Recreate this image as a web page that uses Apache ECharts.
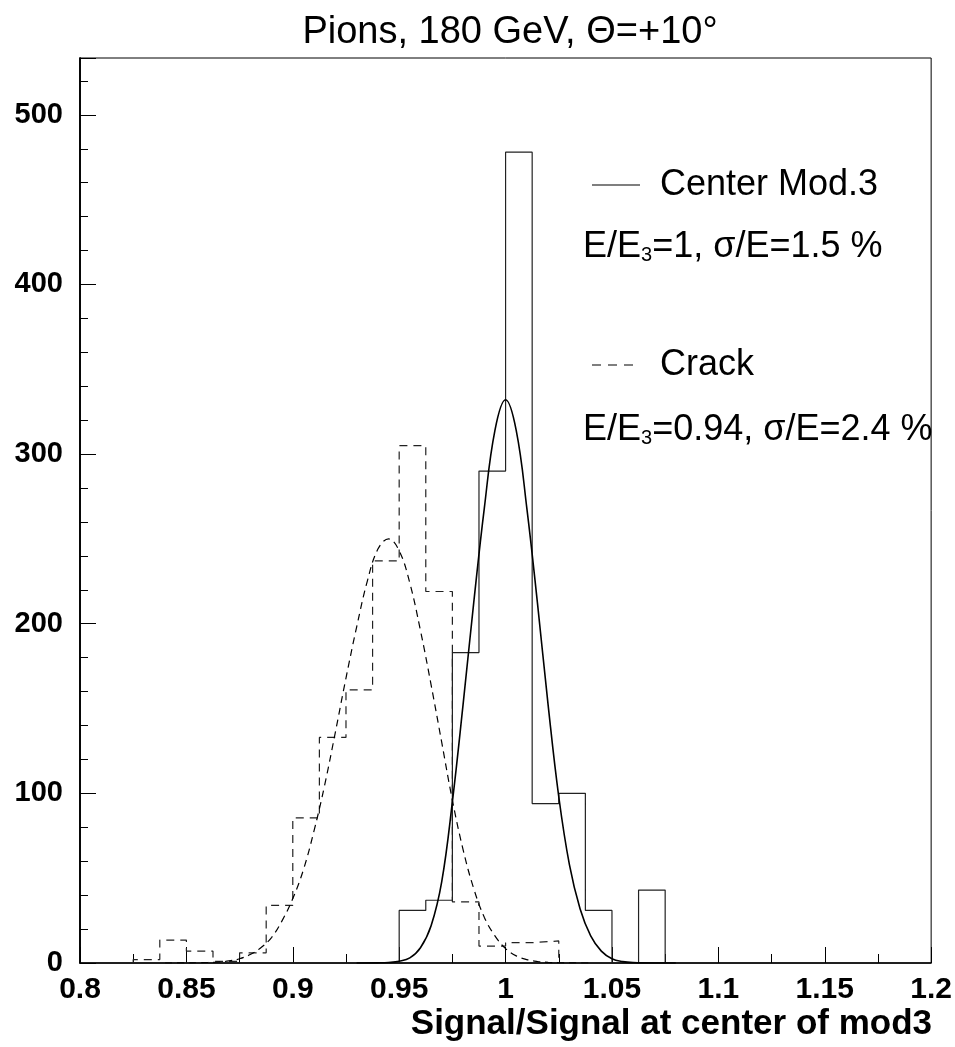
<!DOCTYPE html>
<html><head><meta charset="utf-8">
<script src="https://cdn.jsdelivr.net/npm/echarts@6/dist/echarts.min.js"></script>
<style>html,body{margin:0;padding:0;background:#fff}#c{width:955px;height:1047px}</style>
</head><body><div id="c"></div>
<script>
// ---- data ----
const binLow = [0.825,0.8375,0.85,0.8625,0.875,0.8875,0.9,0.9125,0.925,0.9375,0.95,0.9625,0.975,0.9875,1.0,1.0125,1.025,1.0375,1.05,1.0625];
const binWidth = 0.0125;
const crackCounts  = [2,13.5,7,1,6,34,85.5,133,161,237,305,219,36,10,12,13,0,0,0,0];
const centerCounts = [0,0,0,0,0,0,0,0,0,0,31,37,183,290,478,94,100,31,0,43];

const centerFitX = [0.93,0.94,0.945,0.95,0.955,0.96,0.965,0.97,0.975,0.98,0.985,0.99,0.995,1.0,1.005,1.01,1.015,1.02,1.025,1.03,1.035,1.04,1.045,1.05,1.055,1.06,1.07,1.08];
const centerFitY = [0,0.1,0.3,1,3,9,22,48,95,152,212,268,314,332,314,268,212,152,98,58,32,16,7,2.5,0.8,0.2,0,0];

const crackFitX = [0.84,0.85,0.855,0.86,0.865,0.87,0.875,0.88,0.885,0.89,0.895,0.9,0.905,0.91,0.915,0.92,0.925,0.93,0.935,0.94,0.945,0.95,0.955,0.96,0.965,0.97,0.975,0.98,0.985,0.99,0.995,1.0,1.005,1.01,1.015,1.02,1.025,1.03,1.04];
const crackFitY = [0,0.05,0.15,0.3,0.6,1.2,2.5,5,9,15,25,38,55,78,105,136,168,198,225,244,250,243,224,196,164,130,96,67,44,27,16,8.5,4.2,2,0.9,0.4,0.15,0.05,0];

const xTicks = {min:0.8, max:1.2, step:0.05};
const yTicks = {min:0, max:533.5, step:100, minor:20};

const titleText = 'Pions, 180 GeV, \u0398=+10\u00b0';
const xTitle = 'Signal/Signal at center of mod3';

// ---- build ----
function steps(counts){
  const pts = [[binLow[0],0]];
  counts.forEach((c,i)=>{ pts.push([binLow[i],c]); pts.push([binLow[i]+binWidth,c]); });
  pts.push([binLow[binLow.length-1]+binWidth,0]);
  return pts;
}
const zip = (a,b)=>a.map((v,i)=>[v,b[i]]);

const chart = echarts.init(document.getElementById('c'), null, {renderer:'canvas'});
const FONT = 'Liberation Sans, Arial, sans-serif';
const richTxt = {
  a:{fontFamily:FONT,fontSize:36,color:'#000'},
  s:{fontFamily:FONT,fontSize:20,color:'#000',padding:[16,0,0,0]}
};
chart.setOption({
  animation:false,
  backgroundColor:'#fff',
  grid:{left:80,right:23,top:58,bottom:84,show:true,borderColor:'#000',borderWidth:1,backgroundColor:'transparent'},
  xAxis:{type:'value',min:xTicks.min,max:xTicks.max,interval:xTicks.step,
    axisLine:{lineStyle:{color:'#000',width:1.5}},
    axisTick:{inside:true,length:16,lineStyle:{color:'#000'}},
    minorTick:{show:true,splitNumber:2,length:9,lineStyle:{color:'#000'}},
    splitLine:{show:false},
    axisLabel:{fontFamily:FONT,fontWeight:'bold',fontSize:30,color:'#000',margin:12}},
  yAxis:[
    {type:'value',min:yTicks.min,max:yTicks.max,interval:yTicks.minor,position:'left',
      axisLine:{show:true,lineStyle:{color:'#000',width:1.5}},
      axisTick:{inside:true,length:8,lineStyle:{color:'#000'}},
      splitLine:{show:false},axisLabel:{show:false}},
    {type:'value',min:yTicks.min,max:yTicks.max,interval:yTicks.step,position:'left',offset:0,
      axisLine:{show:true,lineStyle:{color:'#000',width:1.5}},
      axisTick:{inside:true,length:16,lineStyle:{color:'#000'}},
      splitLine:{show:false},
      axisLabel:{fontFamily:FONT,fontWeight:'bold',fontSize:29,color:'#000',margin:17,
        formatter:v=> (Math.abs(v % yTicks.step) < 1e-6 ? String(v) : '')}}
  ],
  series:[
    {type:'line',data:steps(crackCounts),symbol:'none',silent:true,
      lineStyle:{color:'#222',width:1.2,type:[8,6]}},
    {type:'line',data:steps(centerCounts),symbol:'none',silent:true,
      lineStyle:{color:'#222',width:1.2}},
    {type:'line',data:zip(crackFitX,crackFitY),symbol:'none',smooth:0.4,silent:true,
      lineStyle:{color:'#000',width:1.2,type:[7,5]}},
    {type:'line',data:zip(centerFitX,centerFitY),symbol:'none',smooth:0.4,silent:true,
      lineStyle:{color:'#000',width:1.6}}
  ],
  graphic:[
    {type:'text',x:510,y:33,style:{text:titleText,fontFamily:FONT,fontSize:38,fill:'#000',align:'center',verticalAlign:'middle'}},
    {type:'text',x:932,y:1024,style:{text:xTitle,fontFamily:FONT,fontWeight:'bold',fontSize:35,fill:'#000',align:'right',verticalAlign:'middle'}},
    {type:'line',shape:{x1:592,y1:185,x2:640,y2:185},style:{stroke:'#000',lineWidth:1.2}},
    {type:'text',x:660,y:185,style:{text:'Center Mod.3',fontFamily:FONT,fontSize:36,fill:'#000',verticalAlign:'middle'}},
    {type:'text',x:583,y:247,style:{rich:richTxt,text:'{a|E/E}{s|3}{a|=1, \u03c3/E=1.5 %}',verticalAlign:'middle'}},
    {type:'line',shape:{x1:592,y1:365,x2:640,y2:365},style:{stroke:'#000',lineWidth:1.2,lineDash:[9,7]}},
    {type:'text',x:660,y:365,style:{text:'Crack',fontFamily:FONT,fontSize:36,fill:'#000',verticalAlign:'middle'}},
    {type:'text',x:583,y:430,style:{rich:richTxt,text:'{a|E/E}{s|3}{a|=0.94, \u03c3/E=2.4 %}',verticalAlign:'middle'}}
  ]
});
</script></body></html>
